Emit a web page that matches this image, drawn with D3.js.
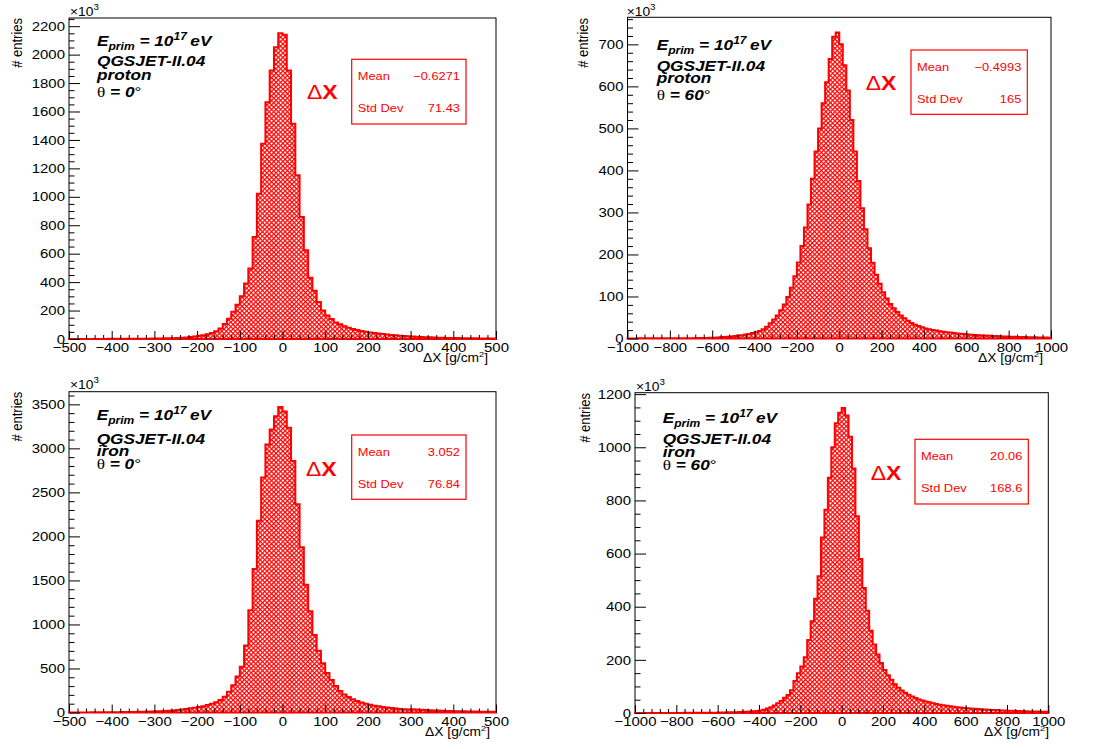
<!DOCTYPE html>
<html><head><meta charset="utf-8">
<script src="https://cdn.jsdelivr.net/npm/d3@7"></script>
<style>
body{margin:0;background:#fff;}
svg{display:block;}
text{font-family:"Liberation Sans",Arial,Helvetica,sans-serif;}
</style></head><body>
<svg id="c" width="1093" height="749"></svg>
<script>
// ---------------- data (thousands of entries per bin) ----------------
// proton, theta=0, 100 bins on [-500,500]
const proton0 = [
0.3,0.3,0.4,0.4,0.5,0.5,0.6,0.7,0.8,0.9,
1.0,1.1,1.3,1.4,1.6,1.8,2.0,2.3,2.6,3.0,
3.4,3.9,4.5,5.2,6.0,7.0,8.2,10.5,14,17,
22,27,34,43,55,73,105,143,192,240,
300,391,496,718,1022,1373,1665,1888,2051,2150,
2140,1888,1514,1151,858,625,430,340,260,200,
165,140,116,103,90,79,71,64,57,51,
46,42,38,35,31.5,28.5,25.5,23,21,19,
17,15.2,13.7,12.6,11.5,10.5,9.5,8.6,7.9,7.3,
6.7,6.3,5.8,5.3,4.8,4.4,4.1,3.8,3.5,3.2];
// proton, theta=60, 120 bins on [-1000,1000]
const proton60 = [
0.2,0.2,0.2,0.3,0.3,0.3,0.3,0.4,0.4,0.4,
0.5,0.5,0.5,0.6,0.6,0.7,0.7,0.8,0.8,0.9,
0.9,1.0,1.2,1.5,1.8,2.2,2.7,3.3,4.0,5.0,
6,7,8,9.5,11,13,15,18,22,28,
36,45,55,67,81,99,121,148,181,220,
264,319,380,445,500,560,610,665,718,728,
700,650,590,520,445,375,310,260,215,180,
152,130,110,95,82,72,63,55,48,42,
37,33,29.5,26.5,24,22,20.3,18.9,17.5,16.1,
15,14,13,11.9,11.2,10.5,9.8,9.1,8.4,7.9,
7.4,7,6.5,6.1,5.7,5.3,5.0,4.6,4.3,4.1,
3.8,3.5,3.3,3.1,2.9,2.7,2.5,2.3,2.2,2.0];
// iron, theta=0, 100 bins on [-500,500]
const iron0 = [
0.8,1.0,1.1,1.2,1.4,1.7,1.9,2.3,2.6,3.0,
3.4,3.8,4.4,5.0,5.8,6.6,7.6,8.6,10,11.4,
13,15.5,18,21,24,29,34,40,47,55,
62,72,84,98,116,142,180,235,310,410,
520,760,1160,1631,2178,2668,3045,3215,3365,3470,
3420,3233,2856,2366,1876,1450,1150,880,700,560,
450,370,300,245,205,175,150,130,114,100,
88,78,70,62,56,50,45,41,37,33.5,
36,33.5,30.5,28,25.5,23.4,21.6,19.8,18.2,16.8,
15.6,14.4,13.2,12.2,11.4,10.6,9.8,9.1,8.5,7.9];
// iron, theta=60, 120 bins on [-1000,1000]
const iron60 = [
0.1,0.1,0.1,0.1,0.2,0.2,0.2,0.2,0.3,0.3,
0.3,0.3,0.4,0.4,0.5,0.5,0.6,0.7,0.8,0.9,
1.0,1.1,1.3,1.4,1.5,1.8,2.1,2.4,2.8,3.2,
3.8,4.3,4.9,5.6,6.3,7.7,9.8,12,17,22,
28,37,45,57,68,86,120,150,175,210,
275,345,430,515,660,765,885,1000,1090,1130,
1148,1120,1040,920,740,580,470,385,310,258,
220,188,162,142,125,108,95,85,76,69,
62,56,51,47,43,40,37,34,31.5,29,
27,25,23.5,22,20.5,19,18,17,16,15,
14,13.2,12.4,11.7,11,10.4,9.8,9.2,8.7,8.2,
7.7,7.3,6.9,6.5,6.1,5.8,5.5,5.2,4.9,4.6];

// tick labels
const xTicks500  = [-500,-400,-300,-200,-100,0,100,200,300,400,500];
const xTicks1000 = [-1000,-800,-600,-400,-200,0,200,400,600,800,1000];
const yTicksP1 = [0,200,400,600,800,1000,1200,1400,1600,1800,2000,2200];
const yTicksP2 = [0,100,200,300,400,500,600,700];
const yTicksP3 = [0,500,1000,1500,2000,2500,3000,3500];
const yTicksP4 = [0,200,400,600,800,1000,1200];

// texts
const primaries = ["proton","proton","iron","iron"];
const angles = ["0","60","0","60"];
const means = ["\u22120.6271","\u22120.4993","3.052","20.06"];
const stdDevs = ["71.43","165","76.84","168.6"];
const modelName = "QGSJET-II.04";
const yTitle = "# entries";

// ---------------- layout ----------------
const SX = 1.15; // horizontal glyph stretch of the reference
const panels = [
 {vals:proton0, xr:[-500,500], xt:xTicks500, xm:20, yt:yTicksP1, ym:50,
  f:{l:69,r:496,t:18,b:339}, info:{x:97, ys:[46,65.7,80,96.7]}, dx:{x:307,y:99},
  sb:{x:351.7,y:59.3,w:114.3,h:64.7,m:80,s:112.3}, yti:{x:22,y:18}, x10:{x:70,y:16}, xti:{x:488,y:362}},
 {vals:proton60, xr:[-1000,1000], xt:xTicks1000, xm:40, yt:yTicksP2, ym:20,
  f:{l:627.5,r:1051,t:17.3,b:338.5}, info:{x:656.7, ys:[50,70.7,83.3,100]}, dx:{x:865.7,y:90},
  sb:{x:911,y:50,w:116.3,h:64.3,m:70.7,s:102.7}, yti:{x:588,y:18}, x10:{x:626.7,y:16}, xti:{x:1043,y:362}},
 {vals:iron0, xr:[-500,500], xt:xTicks500, xm:20, yt:yTicksP3, ym:100,
  f:{l:69,r:496,t:391.7,b:712.5}, info:{x:96.7, ys:[420,444,456,469.3]}, dx:{x:306,y:476},
  sb:{x:351.7,y:435,w:114.3,h:64.3,m:456,s:487.7}, yti:{x:22,y:391.7}, x10:{x:70,y:389}, xti:{x:490,y:736}},
 {vals:iron60, xr:[-1000,1000], xt:xTicks1000, xm:40, yt:yTicksP4, ym:50,
  f:{l:635,r:1048.3,t:392.7,b:713}, info:{x:662.7, ys:[422.7,444,457,470]}, dx:{x:870.7,y:480},
  sb:{x:915,y:439.3,w:113.3,h:64.7,m:460,s:491.7}, yti:{x:590,y:393}, x10:{x:636,y:391}, xti:{x:1049,y:736}}
];

const svg = d3.select("#c");
svg.append("rect").attr("width",1093).attr("height",749).attr("fill","#fff");
const defs = svg.append("defs");
const pat = defs.append("pattern").attr("id","hatch").attr("patternUnits","userSpaceOnUse")
  .attr("width",3.2).attr("height",3.2).attr("patternTransform","rotate(45)");
pat.append("rect").attr("width",3.2).attr("height",3.2).attr("fill","#fff");
pat.append("rect").attr("width",3.2).attr("height",1.2).attr("fill","#ff0000");
pat.append("rect").attr("width",1.2).attr("height",3.2).attr("fill","#ff0000");

function stext(g, x, y, size) {
  return g.append("text").attr("transform",`translate(${x},${y}) scale(${SX},1)`).attr("font-size",size);
}

panels.forEach((p, k) => {
  const g = svg.append("g");
  const n = p.vals.length;
  const w = (p.xr[1]-p.xr[0])/n;
  const yMax = d3.max(p.vals)*1.05;
  const x = d3.scaleLinear().domain(p.xr).range([p.f.l, p.f.r]);
  const y = d3.scaleLinear().domain([0, yMax]).range([p.f.b, p.f.t]);

  // frame
  g.append("rect").attr("x",p.f.l).attr("y",p.f.t).attr("width",p.f.r-p.f.l).attr("height",p.f.b-p.f.t)
    .attr("fill","none").attr("stroke","#000").attr("stroke-width",1);

  // histogram
  const pts = p.vals.map((v,i)=>[p.xr[0]+i*w, v]);
  pts.push([p.xr[1], p.vals[n-1]]);
  const area = d3.area().x(d=>x(d[0])).y0(y(0)).y1(d=>y(d[1])).curve(d3.curveStepAfter);
  g.append("path").attr("d", area(pts)).attr("fill","url(#hatch)").attr("stroke","#ff0000")
    .attr("stroke-width",2).attr("stroke-linejoin","miter");

  // axes
  const xMinor = d3.range(p.xr[0], p.xr[1]+1e-9, p.xm).filter(v=>!p.xt.includes(v));
  const yMinor = d3.range(0, yMax, p.ym).filter(v=>!p.yt.includes(v));
  const styleAxis = sel => { sel.select(".domain").remove(); sel.selectAll("line").attr("stroke","#000"); };

  g.append("g").attr("transform",`translate(0,${p.f.b})`)
    .call(d3.axisBottom(x).tickValues(xMinor).tickSize(-4).tickFormat("")).call(styleAxis);
  const xa = g.append("g").attr("transform",`translate(0,${p.f.b})`)
    .call(d3.axisBottom(x).tickValues(p.xt).tickSize(-8).tickSizeOuter(0).tickPadding(4).tickFormat(d3.format("d")))
    .call(styleAxis);
  xa.attr("font-size",13).attr("font-family",null);
  xa.selectAll("text").attr("fill","#000").attr("transform",`scale(${SX},1)`);

  g.append("g").attr("transform",`translate(${p.f.l},0)`)
    .call(d3.axisLeft(y).tickValues(yMinor).tickSize(-5.5).tickFormat("")).call(styleAxis);
  const ya = g.append("g").attr("transform",`translate(${p.f.l},0)`)
    .call(d3.axisLeft(y).tickValues(p.yt).tickSize(-11).tickSizeOuter(0).tickPadding(3.5).tickFormat(d3.format("d")))
    .call(styleAxis);
  ya.attr("font-size",13).attr("font-family",null);
  ya.selectAll("text").attr("fill","#000").attr("transform",`scale(${SX},1)`);

  // axis titles
  g.append("text").attr("transform",`translate(${p.yti.x},${p.yti.y}) rotate(-90) scale(1,${SX})`)
    .attr("text-anchor","end").attr("font-size",13).text(yTitle);
  const xt = stext(g, p.xti.x, p.xti.y, 12).attr("text-anchor","end");
  xt.append("tspan").text("\u0394X [g/cm");
  xt.append("tspan").attr("font-size",8).attr("dy",-5).text("2");
  xt.append("tspan").attr("dy",5).text("]");
  const tx = stext(g, p.x10.x, p.x10.y, 12);
  tx.append("tspan").text("\u00d710");
  tx.append("tspan").attr("font-size",8.5).attr("dy",-6).text("3");

  // info text
  const e = stext(g, p.info.x, p.info.ys[0], 15).attr("font-weight","bold").attr("font-style","italic");
  e.append("tspan").text("E");
  e.append("tspan").attr("font-size",10.5).attr("dy",4).text("prim");
  e.append("tspan").attr("dy",-4).text(" = 10");
  e.append("tspan").attr("font-size",10.5).attr("dy",-6).text("17");
  e.append("tspan").attr("dy",6).attr("dx",3).text("eV");
  stext(g, p.info.x, p.info.ys[1], 15).attr("font-weight","bold").attr("font-style","italic").text(modelName);
  stext(g, p.info.x, p.info.ys[2], 15).attr("font-weight","bold").attr("font-style","italic").text(primaries[k]);
  const th = stext(g, p.info.x, p.info.ys[3], 15);
  th.append("tspan").attr("font-family","'Liberation Serif',serif").text("\u03b8");
  th.append("tspan").attr("font-weight","bold").attr("font-style","italic").text(" = " + angles[k]);
  th.append("tspan").text("\u00b0");

  // Delta X label
  const d = stext(g, p.dx.x, p.dx.y, 20).attr("fill","#ff0000");
  d.append("tspan").text("\u0394");
  d.append("tspan").attr("font-weight","bold").text("X");

  // stats box
  g.append("rect").attr("x",p.sb.x).attr("y",p.sb.y).attr("width",p.sb.w).attr("height",p.sb.h)
    .attr("fill","#fff").attr("stroke","#ff0000").attr("stroke-width",1.2);
  stext(g, p.sb.x+6, p.sb.m, 11.2).attr("fill","#ff0000").text("Mean");
  stext(g, p.sb.x+p.sb.w-6, p.sb.m, 11.2).attr("fill","#ff0000").attr("text-anchor","end").text(means[k]);
  stext(g, p.sb.x+6, p.sb.s, 11.2).attr("fill","#ff0000").text("Std Dev");
  stext(g, p.sb.x+p.sb.w-6, p.sb.s, 11.2).attr("fill","#ff0000").attr("text-anchor","end").text(stdDevs[k]);
});
</script>
</body></html>
